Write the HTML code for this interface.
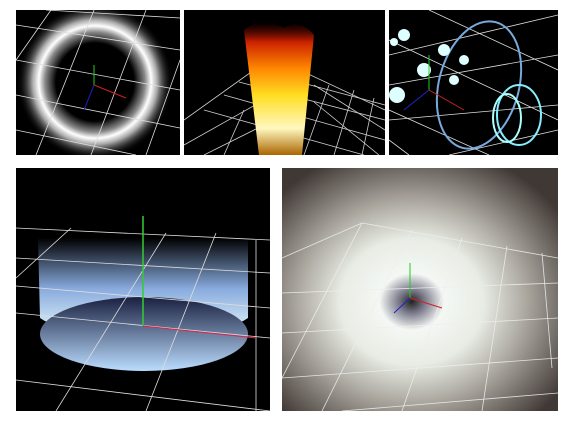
<!DOCTYPE html>
<html><head><meta charset="utf-8"><style>
html,body{margin:0;padding:0;background:#fff;width:574px;height:423px;overflow:hidden}
svg{position:absolute;display:block}
</style></head><body>
<svg style="left:16px;top:10px" width="164" height="145" viewBox="0 0 164 145">
<defs><radialGradient id="rg1" cx="0.5" cy="0.5" r="0.5">
<stop offset="0.5" stop-color="#000"/><stop offset="0.64" stop-color="#888"/><stop offset="0.72" stop-color="#fff"/><stop offset="0.8" stop-color="#aaa"/><stop offset="1" stop-color="#000" stop-opacity="0"/></radialGradient></defs>
<rect width="164" height="145" fill="#000"/>
<ellipse cx="79" cy="72" rx="78" ry="78" fill="url(#rg1)"/>
<g stroke="#ddd" stroke-width="0.8" fill="none">
<path d="M0 15 L164 40 M0 50 L164 80 M0 85 L164 118 M0 120 L120 145 M30 0 L164 8"/>
<path d="M35 0 L0 50 M78 0 L20 145 M130 0 L75 145 M164 50 L130 145"/>
</g>
<line x1="78" y1="75" x2="78" y2="55" stroke="#2c2"/>
<line x1="78" y1="75" x2="110" y2="88" stroke="#c22"/>
<line x1="78" y1="75" x2="68" y2="100" stroke="#22c"/>
</svg>
<svg style="left:184px;top:10px" width="201" height="145" viewBox="0 0 201 145">
<defs><linearGradient id="fg" x1="0" y1="0" x2="0" y2="1">
<stop offset="0" stop-color="#600" stop-opacity="0"/><stop offset="0.15" stop-color="#c20"/><stop offset="0.35" stop-color="#f80"/><stop offset="0.55" stop-color="#fd2"/><stop offset="0.8" stop-color="#fff8c0"/><stop offset="1" stop-color="#a60"/></linearGradient></defs>
<rect width="201" height="145" fill="#000"/>
<g stroke="#ccc" stroke-width="0.8" fill="none">
<path d="M0 110 L70 60 M0 135 L80 90 M20 145 L90 110 M120 62 L201 100 M130 75 L201 120 M130 92 L195 145"/>
<path d="M70 60 L201 95 M55 72 L201 110 M40 85 L201 130 M20 100 L180 145"/>
<path d="M145 75 L120 145 M170 80 L150 145 M190 88 L178 145 M60 100 L40 145"/>
</g>
<path d="M60 20 Q80 5 100 18 Q115 8 130 25 L118 145 L75 145 Z" fill="url(#fg)"/>
</svg>
<svg style="left:389px;top:10px" width="169" height="145" viewBox="0 0 169 145">
<rect width="169" height="145" fill="#000"/>
<g stroke="#ddd" stroke-width="0.8" fill="none">
<path d="M0 45 L169 5 M0 75 L169 45 M0 110 L169 95 M60 145 L169 120"/>
<path d="M40 0 L169 60 M0 30 L169 110 M20 145 L0 130 M100 145 L0 100"/>
</g>
<ellipse cx="90" cy="75" rx="40" ry="65" fill="none" stroke="#7ad" stroke-width="2" transform="rotate(15 90 75)"/>
<ellipse cx="130" cy="105" rx="22" ry="30" fill="none" stroke="#8ef" stroke-width="2"/>
<ellipse cx="118" cy="108" rx="14" ry="24" fill="none" stroke="#aff" stroke-width="2"/>
<g fill="#dff">
<circle cx="15" cy="25" r="6"/><circle cx="8" cy="85" r="8"/><circle cx="35" cy="60" r="7"/><circle cx="55" cy="40" r="6"/><circle cx="65" cy="70" r="5"/><circle cx="75" cy="50" r="5"/><circle cx="5" cy="32" r="4"/></g>
<line x1="40" y1="80" x2="40" y2="45" stroke="#2c2"/><line x1="40" y1="80" x2="75" y2="100" stroke="#c22"/><line x1="40" y1="80" x2="15" y2="100" stroke="#22c"/>
</svg>
<svg style="left:16px;top:168px" width="254" height="243" viewBox="0 0 254 243">
<defs><linearGradient id="cw" x1="0" y1="0" x2="0" y2="1"><stop offset="0" stop-color="#000"/><stop offset="0.5" stop-color="#8ad"/><stop offset="1" stop-color="#eff"/></linearGradient>
<linearGradient id="ct" x1="0" y1="0" x2="0" y2="1"><stop offset="0" stop-color="#1a2040"/><stop offset="1" stop-color="#bdf"/></linearGradient></defs>
<rect width="254" height="243" fill="#000"/>
<path d="M22 70 L232 70 L232 150 A115 37 0 0 1 24 150 Z" fill="url(#cw)"/>
<ellipse cx="128" cy="166" rx="104" ry="37" fill="url(#ct)"/>
<g stroke="#ddd" stroke-width="0.8" fill="none">
<path d="M0 60 L254 72 M0 90 L254 105 M0 118 L254 140 M0 145 L254 170 M0 212 L254 243"/>
<path d="M55 60 L0 110 M150 65 L40 243 M200 65 L130 243 M240 72 L240 243"/>
</g>
<line x1="127" y1="158" x2="127" y2="48" stroke="#3c3" stroke-width="1.5"/>
<line x1="127" y1="158" x2="240" y2="170" stroke="#d24" stroke-width="1"/>
</svg>
<svg style="left:282px;top:168px" width="276" height="243" viewBox="0 0 276 243">
<defs><radialGradient id="bg5" cx="0.47" cy="0.55" r="0.65">
<stop offset="0" stop-color="#222"/><stop offset="0.07" stop-color="#778"/><stop offset="0.18" stop-color="#f4f8f4"/><stop offset="0.4" stop-color="#e8ece4"/><stop offset="0.65" stop-color="#a8a49c"/><stop offset="1" stop-color="#403835"/></radialGradient></defs>
<rect width="276" height="243" fill="url(#bg5)"/>
<g stroke="#eee" stroke-width="0.8" fill="none" opacity="0.9">
<path d="M0 90 L80 55 L276 90 M0 125 L276 115 M0 165 L276 150 M0 210 L276 190 M60 243 L276 225"/>
<path d="M80 55 L0 210 M130 62 L40 243 M180 70 L120 243 M225 78 L200 243 M260 85 L270 200"/>
</g>
<line x1="128" y1="130" x2="128" y2="95" stroke="#2c2"/><line x1="128" y1="130" x2="160" y2="140" stroke="#c22"/><line x1="128" y1="130" x2="112" y2="145" stroke="#22c"/>
</svg>
</body></html>
